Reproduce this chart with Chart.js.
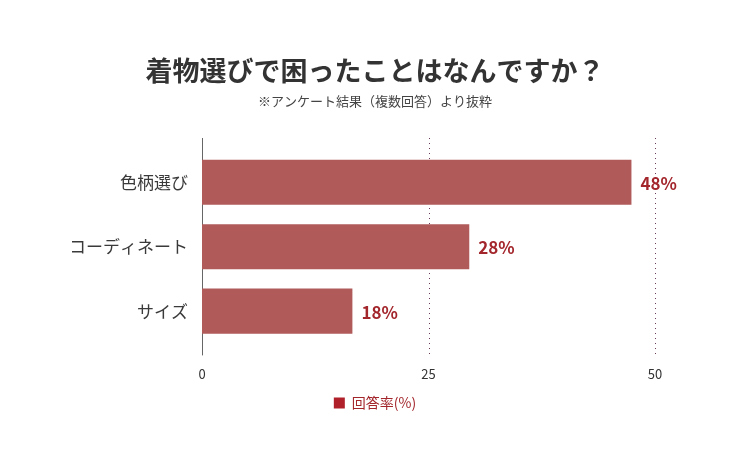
<!DOCTYPE html>
<html>
<head>
<meta charset="utf-8">
<script src="https://cdn.jsdelivr.net/npm/chart.js@4/dist/chart.umd.min.js"></script>
<style>
  html, body { margin: 0; padding: 0; background: #fff; }
  #wrap { width: 750px; height: 450px; }
</style>
</head>
<body>
<div id="wrap"><canvas id="chart-canvas"></canvas></div>
<script>
// 回答データ
var categories = ['色柄選び', 'コーディネート', 'サイズ'];
var answerRate = [47.4, 29.5, 16.6];
var rateLabels = ['48%', '28%', '18%'];
var xTicks = [0, 25, 50];

var FONT = '"Noto Sans CJK JP", "Noto Sans", sans-serif';
var barColor = '#b05a5a';

Chart.defaults.font.family = FONT;

// dotted grid + axis line, a little longer than the chart area
var gridPlugin = {
    id: 'gridLines',
    beforeDatasetsDraw: function(chart) {
        var ctx = chart.ctx, area = chart.chartArea, x = chart.scales.x;
        var top = area.top - 12, bottom = area.bottom + 12;
        ctx.save();
        ctx.strokeStyle = '#6a3a5a';
        ctx.lineWidth = 1;
        ctx.setLineDash([1, 4]);
        xTicks.forEach(function(v) {
            if (v === 0) return;
            var px = Math.round(x.getPixelForValue(v)) + 0.5;
            ctx.beginPath();
            ctx.moveTo(px, top);
            ctx.lineTo(px, bottom);
            ctx.stroke();
        });
        ctx.setLineDash([]);
        ctx.strokeStyle = '#666';
        var x0 = Math.round(x.getPixelForValue(0)) + 0.5;
        ctx.beginPath();
        ctx.moveTo(x0, top);
        ctx.lineTo(x0, bottom);
        ctx.stroke();
        ctx.restore();
    }
};

var valuePlugin = {
    id: 'valueLabels',
    afterDatasetsDraw: function(chart) {
        var ctx = chart.ctx;
        var meta = chart.getDatasetMeta(0);
        ctx.save();
        ctx.font = 'bold 17px ' + FONT;
        ctx.fillStyle = '#a3262c';
        ctx.textAlign = 'left';
        ctx.textBaseline = 'middle';
        meta.data.forEach(function(bar, i) {
            ctx.fillText(rateLabels[i], bar.x + 9, bar.y + 1);
        });
        ctx.restore();
    }
};

new Chart(document.getElementById('chart-canvas'), {
    type: 'bar',
    data: {
        labels: categories,
        datasets: [{
            label: '回答率(%)',
            data: answerRate,
            backgroundColor: barColor,
            borderWidth: 0,
            categoryPercentage: 0.7,
            barPercentage: 1.0
        }]
    },
    options: {
        indexAxis: 'y',
        responsive: true,
        maintainAspectRatio: false,
        animation: false,
        layout: { padding: { top: 48, right: 72, bottom: 30, left: 72 } },
        scales: {
            x: {
                min: 0,
                max: 50,
                afterBuildTicks: function(s) { s.ticks = xTicks.map(function(v) { return { value: v }; }); },
                afterFit: function(s) {
                    s.height = s.height - 11;
                    s.paddingRight = 95; // keeps the plot narrower than the centred title
                },
                grid: { display: false, drawTicks: false },
                border: { display: false },
                ticks: { color: '#333', font: { size: 13 }, padding: 23 }
            },
            y: {
                grid: { display: false, drawTicks: false },
                border: { display: false },
                afterFit: function(s) { s.width = 130; },
                ticks: { color: '#3a3a3a', font: { size: 17 }, padding: 14 }
            }
        },
        plugins: {
            title: {
                display: true,
                text: '着物選びで困ったことはなんですか？',
                color: '#333',
                font: { size: 27, weight: 'bold' },
                padding: { top: 7, bottom: 3 }
            },
            subtitle: {
                display: true,
                text: '※アンケート結果（複数回答）より抜粋',
                color: '#444',
                font: { size: 13 },
                padding: { top: 3, bottom: 41 }
            },
            legend: {
                position: 'bottom',
                labels: {
                    boxWidth: 11,
                    boxHeight: 11,
                    color: '#a3262c',
                    font: { size: 14 },
                    padding: 2,
                    generateLabels: function(chart) {
                        return chart.data.datasets.map(function(ds, i) {
                            return { text: ds.label, fillStyle: '#b0202a', strokeStyle: '#b0202a', lineWidth: 0, datasetIndex: i, fontColor: '#a3262c' };
                        });
                    }
                }
            },
            tooltip: { enabled: false }
        }
    },
    plugins: [gridPlugin, valuePlugin]
});
</script>
</body>
</html>
